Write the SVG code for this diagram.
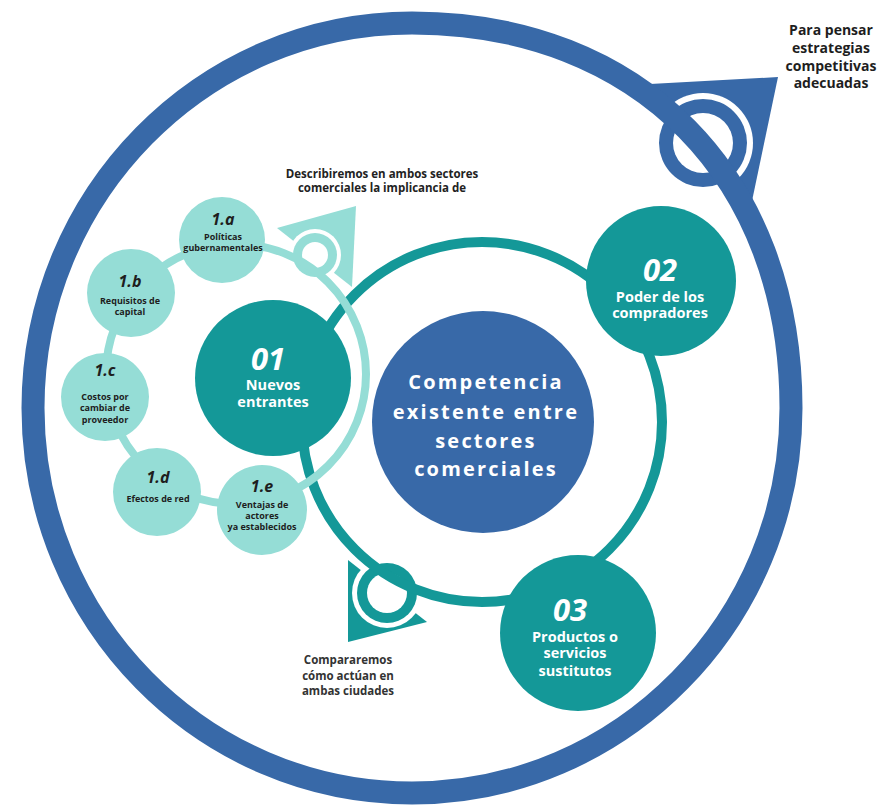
<svg xmlns="http://www.w3.org/2000/svg" width="879" height="807" viewBox="0 0 879 807">
  <style>
    .bg { fill: #ffffff; }
    .blue { fill: #3869a8; }
    .teal { fill: #149898; }
    .light { fill: #95ddd6; }
    .hole { fill: #ffffff; }
    .ring-blue { fill: none; stroke: #3869a8; stroke-width: 23; }
    .ring-teal { fill: none; stroke: #149898; stroke-width: 10; }
    .ring-light { fill: none; stroke: #95ddd6; stroke-width: 8; }
    text { font-family: "Open Sans", "Noto Sans", "DejaVu Sans", sans-serif; font-weight: bold; text-anchor: middle; }
    .note { font-size: 11.5px; fill: #222222; }
    .note-gray { font-size: 11.5px; fill: #333333; }
    .side { font-size: 14px; fill: #1e1e1e; }
    .center-title { font-size: 20px; fill: #ffffff; letter-spacing: 2.2px; }
    .num { font-size: 31px; font-style: italic; fill: #ffffff; }
    .label { font-size: 14.5px; fill: #ffffff; }
    .sub-num { font-size: 16px; font-style: italic; fill: #1e1e1e; }
    .sub-label { font-size: 9px; fill: #1e1e1e; }
  </style>

  <rect class="bg" x="0" y="0" width="879" height="807"/>

  <!-- rings and their arrowheads -->
  <g id="connectors">
    <!-- outer blue loop with arrowhead at top right -->
    <polygon class="blue" points="650,84 778,77 752,201"/>
    <circle class="hole" cx="703" cy="143" r="50"/>
    <circle class="blue" cx="703" cy="143" r="44"/>
    <circle class="hole" cx="703" cy="143" r="30"/>
    <path class="ring-blue" d="M412,23 C639.4,23 791,177 791,408 C791,620.6 621.3,793 412,793 C202.7,793 33,620.6 33,408 C33,195.4 202.7,23 412,23 Z"/>

    <!-- middle teal loop with arrowhead at bottom left -->
    <polygon class="teal" points="348,560 427,622 348,642"/>
    <circle class="hole" cx="387" cy="593" r="35"/>
    <circle class="teal" cx="387" cy="593" r="30"/>
    <circle class="hole" cx="387" cy="593" r="20"/>
    <circle class="ring-teal" cx="482" cy="422" r="180"/>
  </g>

  <g id="node-center">
    <circle class="blue" cx="483" cy="422" r="111"/>
    <text class="center-title" x="486" y="389">Competencia</text>
    <text class="center-title" x="486" y="419">existente entre</text>
    <text class="center-title" x="486" y="448">sectores</text>
    <text class="center-title" x="486" y="476">comerciales</text>
  </g>

  <g id="node-01">
    <circle class="teal" cx="273" cy="378" r="78"/>
    <text class="num" x="268" y="370">01</text>
    <text class="label" x="273" y="390">Nuevos</text>
    <text class="label" x="273" y="407">entrantes</text>
  </g>

  <!-- light sub-loop around node 01 -->
  <g id="connectors-sub">
    <polygon class="light" points="277,228 356,206 352,287"/>
    <circle class="hole" cx="315" cy="255" r="26"/>
    <circle class="light" cx="315" cy="255" r="22"/>
    <circle class="hole" cx="315" cy="255" r="13"/>
    <circle class="ring-light" cx="236" cy="374" r="130"/>
  </g>

  <g id="node-02">
    <circle class="teal" cx="661" cy="281" r="75"/>
    <text class="num" x="660" y="281">02</text>
    <text class="label" x="660" y="302">Poder de los</text>
    <text class="label" x="660" y="318">compradores</text>
  </g>

  <g id="node-03">
    <circle class="teal" cx="578" cy="633" r="78"/>
    <text class="num" x="570" y="621">03</text>
    <text class="label" x="575" y="642">Productos o</text>
    <text class="label" x="575" y="658">servicios</text>
    <text class="label" x="575" y="676">sustitutos</text>
  </g>

  <g id="node-1a">
    <circle class="light" cx="222" cy="240" r="43"/>
    <text class="sub-num" x="223" y="225">1.a</text>
    <text class="sub-label" x="223" y="240">Políticas</text>
    <text class="sub-label" x="223" y="251">gubernamentales</text>
  </g>

  <g id="node-1b">
    <circle class="light" cx="131" cy="293" r="44"/>
    <text class="sub-num" x="130" y="287">1.b</text>
    <text class="sub-label" x="130" y="304">Requisitos de</text>
    <text class="sub-label" x="130" y="315">capital</text>
  </g>

  <g id="node-1c">
    <circle class="light" cx="105" cy="397" r="44"/>
    <text class="sub-num" x="105" y="376">1.c</text>
    <text class="sub-label" x="105" y="400">Costos por</text>
    <text class="sub-label" x="105" y="411">cambiar de</text>
    <text class="sub-label" x="105" y="423">proveedor</text>
  </g>

  <g id="node-1d">
    <circle class="light" cx="157" cy="492" r="44"/>
    <text class="sub-num" x="158" y="483">1.d</text>
    <text class="sub-label" x="158" y="502">Efectos de red</text>
  </g>

  <g id="node-1e">
    <circle class="light" cx="262" cy="510" r="45"/>
    <text class="sub-num" x="262" y="492">1.e</text>
    <text class="sub-label" x="262" y="508">Ventajas de</text>
    <text class="sub-label" x="262" y="519">actores</text>
    <text class="sub-label" x="262" y="530">ya establecidos</text>
  </g>

  <g id="note-top-right">
    <text class="side" x="831" y="35">Para pensar</text>
    <text class="side" x="831" y="53">estrategias</text>
    <text class="side" x="831" y="71">competitivas</text>
    <text class="side" x="831" y="88">adecuadas</text>
  </g>

  <g id="note-top">
    <text class="note" x="382" y="178">Describiremos en ambos sectores</text>
    <text class="note" x="382" y="192">comerciales la implicancia de</text>
  </g>

  <g id="note-bottom">
    <text class="note-gray" x="348" y="664">Compararemos</text>
    <text class="note-gray" x="348" y="680">cómo actúan en</text>
    <text class="note-gray" x="348" y="695">ambas ciudades</text>
  </g>
</svg>
